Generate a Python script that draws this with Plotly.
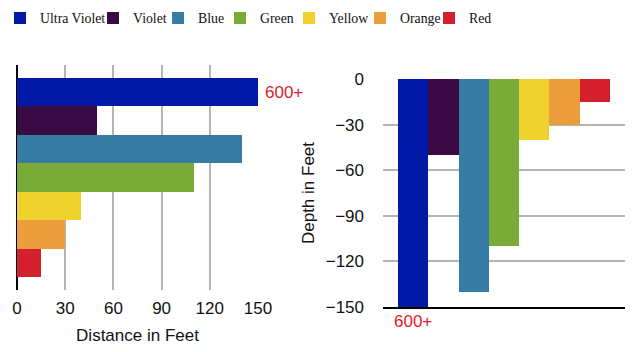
import plotly.graph_objects as go

# ---- data ----
band_names = ["Ultra Violet", "Violet", "Blue", "Green", "Yellow", "Orange", "Red"]
band_colors = ["#0219A8", "#3A0A45", "#367CA5", "#78AB38", "#F0D22F", "#EB9E3B", "#D4202C"]
distance_ft = [600, 50, 140, 110, 40, 30, 15]      # Ultra Violet goes beyond the axis (600+)
depth_ft = [-600, -50, -140, -110, -40, -30, -15]
distance_ticks = [0, 30, 60, 90, 120, 150]
depth_ticks = [0, -30, -60, -90, -120, -150]
overflow_label = "600+"

W, H = 640, 352
SANS = "Liberation Sans, Arial, Helvetica, sans-serif"
SERIF = "Liberation Serif, Times New Roman, serif"
GRID = "#b4b4b4"
LABEL_RED = "#E0202A"
FS = 17

# left edge of each legend swatch in the reference (pixels)
legend_px = [12, 109, 174, 236, 305, 376, 445]
legend_ids = ["legend"] + [f"legend{i}" for i in range(2, 8)]

fig = go.Figure()
for name, col, d, z, lid in zip(band_names, band_colors, distance_ft, depth_ft, legend_ids):
    fig.add_trace(go.Bar(x=[d], y=[name], orientation="h", name=name,
                         legendgroup=name, legend=lid,
                         marker=dict(color=col, line=dict(width=0)),
                         xaxis="x", yaxis="y", showlegend=True))
    fig.add_trace(go.Bar(x=[name], y=[z], name=name, legendgroup=name,
                         marker=dict(color=col, line=dict(width=0)),
                         xaxis="x2", yaxis="y2", showlegend=False))

legend_layout = {}
for lid, px in zip(legend_ids, legend_px):
    legend_layout[lid] = dict(orientation="h", x=max(0.0, (px - 16) / W), xanchor="left",
                              y=1 - 18 / H, yanchor="middle",
                              font=dict(family=SERIF, size=13.8, color="#111111"),
                              bgcolor="rgba(0,0,0,0)", borderwidth=0)

fig.update_layout(
    width=W, height=H,
    margin=dict(l=0, r=0, t=0, b=0, autoexpand=False),
    paper_bgcolor="white", plot_bgcolor="white",
    barmode="relative", bargap=0,
    font=dict(family=SANS, size=FS, color="#111111"),
    showlegend=True,
    xaxis=dict(domain=[17 / W, 258 / W], anchor="y", range=[0, 150],
               tickmode="array", tickvals=distance_ticks,
               showgrid=True, gridcolor=GRID, gridwidth=1.5,
               zeroline=True, zerolinecolor="#000000", zerolinewidth=1.5,
               showline=False, ticks="", ticklabelstandoff=6,
               title=dict(text="Distance in Feet", standoff=12, font=dict(size=FS)),
               automargin=False, fixedrange=True),
    yaxis=dict(domain=[1 - 290 / H, 1 - 65 / H], anchor="x",
               type="category", categoryorder="array", categoryarray=band_names,
               range=[6.957, -0.957], showticklabels=False, showgrid=False,
               zeroline=False, showline=False, ticks="", automargin=False, fixedrange=True),
    xaxis2=dict(domain=[383 / W, 625 / W], anchor="y2",
                type="category", categoryorder="array", categoryarray=band_names,
                range=[-1, 7], showticklabels=False, showgrid=False, zeroline=False,
                showline=True, linecolor="#000000", linewidth=1.5, ticks="",
                automargin=False, fixedrange=True),
    yaxis2=dict(domain=[1 - 307 / H, 1 - 79 / H], anchor="x2", range=[-150, 0],
                tickmode="array", tickvals=depth_ticks,
                showgrid=True, gridcolor=GRID, gridwidth=1.5, zeroline=False,
                showline=False, ticks="", ticklabelstandoff=18,
                title=dict(text="Depth in Feet", standoff=6, font=dict(size=FS)),
                automargin=False, fixedrange=True),
    annotations=[
        dict(text=overflow_label, x=150, y=band_names[0], xref="x", yref="y",
             xanchor="left", yanchor="middle", xshift=5, showarrow=False,
             font=dict(family=SANS, size=FS, color=LABEL_RED)),
        dict(text=overflow_label, x=band_names[0], y=-150, xref="x2", yref="y2",
             xanchor="center", yanchor="top", yshift=-3, showarrow=False,
             font=dict(family=SANS, size=FS, color=LABEL_RED)),
    ],
    **legend_layout,
)

fig.write_html("out.html")
